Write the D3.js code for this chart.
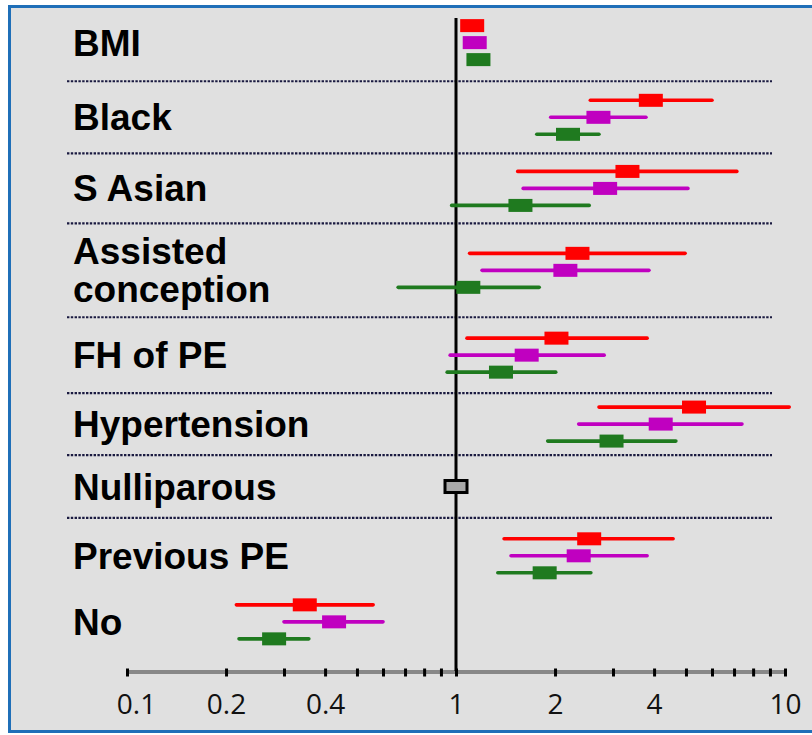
<!DOCTYPE html>
<html>
<head>
<meta charset="utf-8">
<script src="https://cdn.jsdelivr.net/npm/d3@7"></script>
<style>
  body { margin: 0; background: #fff; }
  .group-label { font-family: "Liberation Sans", Arial, sans-serif; font-weight: bold; font-size: 37px; fill: #000; }
  .axis text { font-family: "Open Sans", "Liberation Sans", sans-serif; font-size: 28px; fill: #111; }
</style>
</head>
<body>
<div id="chart"></div>
<script>
// risk factor groups, top to bottom
const groups = ["BMI", "Black", "S Asian", "Assisted conception", "FH of PE",
                "Hypertension", "Nulliparous", "Previous PE", "No"];

// odds ratios and 95% CI per model (null = reference category)
const redOR   = [1.12, 3.91, 3.32, 2.34, 2.02, 5.29, null, 2.54, 0.347];
const redLo   = [1.10, 2.56, 1.54, 1.10, 1.08, 2.72, null, 1.40, 0.215];
const redHi   = [1.14, 6.00, 7.14, 4.97, 3.81, 10.3, null, 4.57, 0.56];

const magOR   = [1.14, 2.71, 2.84, 2.15, 1.64, 4.19, null, 2.36, 0.426];
const magLo   = [1.12, 1.94, 1.60, 1.20, 0.96, 2.36, null, 1.47, 0.30];
const magHi   = [1.16, 3.78, 5.07, 3.86, 2.82, 7.40, null, 3.81, 0.60];

const greenOR = [1.17, 2.19, 1.57, 1.09, 1.37, 2.97, null, 1.86, 0.28];
const greenLo = [1.15, 1.76, 0.97, 0.667, 0.94, 1.90, null, 1.34, 0.219];
const greenHi = [1.19, 2.72, 2.54, 1.79, 2.01, 4.66, null, 2.57, 0.357];

const referenceGroup = "Nulliparous";
const referenceValue = 1;

const tickValues = [0.1, 0.2, 0.3, 0.4, 0.5, 0.6, 0.7, 0.8, 0.9,
                    1, 2, 3, 4, 5, 6, 7, 8, 9, 10];
const tickLabels = [0.1, 0.2, 0.4, 1, 2, 4, 10];

// LAYOUT
const W = 812, H = 735;
const rowSpan = [1.07, 1, 0.97, 1.3, 1.05, 0.86, 0.87, 1.05, 0.78];   // relative row heights
const series = [
    {key: "red",     color: "#ff0000", or: redOR,   lo: redLo,   hi: redHi},
    {key: "magenta", color: "#c000c0", or: magOR,   lo: magLo,   hi: magHi},
    {key: "green",   color: "#1f7a1f", or: greenOR, lo: greenLo, hi: greenHi}
];

const x = d3.scaleLog().domain([0.1, 10]).range([127, 785]);

const cum = [0];
rowSpan.forEach((s, i) => cum.push(cum[i] + s));
const yRow = d3.scaleLinear().domain([0, cum[cum.length - 1]]).range([4, 650]);
const rowTop = i => yRow(cum[i]);
const rowMid = i => yRow(cum[i] + rowSpan[i] / 2);
const ySeries = d3.scalePoint().domain(series.map(s => s.key)).range([-17, 17]);

const svg = d3.select("#chart").append("svg")
    .attr("width", W).attr("height", H);

// panel
svg.append("rect")
    .attr("x", 9.5).attr("y", 6.5)
    .attr("width", W + 10).attr("height", 725)
    .attr("fill", "#e0e0e0")
    .attr("stroke", "#1f6fb8")
    .attr("stroke-width", 3);

// dotted separators (none between Previous PE and No)
svg.append("g").selectAll("line")
    .data(d3.range(1, 8))
    .join("line")
    .attr("x1", 67).attr("x2", 772)
    .attr("y1", i => rowTop(i)).attr("y2", i => rowTop(i))
    .attr("stroke", "#1a1a40")
    .attr("stroke-width", 2.2)
    .attr("stroke-dasharray", "2.4 1.4");

// group labels
svg.append("g").selectAll("text")
    .data(groups)
    .join("text")
    .attr("class", "group-label")
    .attr("x", 73)
    .each(function (d, i) {
        let words = d === "Assisted conception" ? ["Assisted", "conception"] : [d];
        let t = d3.select(this);
        words.forEach((w, j) => {
            t.append("tspan")
                .attr("x", 73)
                .attr("y", rowMid(i) + 13 + (j - (words.length - 1) / 2) * 38)
                .text(w);
        });
    });

// axis
const axis = svg.append("g")
    .attr("class", "axis")
    .attr("transform", `translate(0, 671.5)`)
    .call(d3.axisBottom(x)
        .tickValues(tickValues)
        .tickSizeOuter(0)
        .tickFormat(d => tickLabels.includes(d) ? d3.format("")(d) : ""));

axis.select(".domain").attr("stroke", "#888").attr("stroke-width", 4);
axis.selectAll(".tick line")
    .attr("y1", -3).attr("y2", 5)
    .attr("stroke", "#000").attr("stroke-width", 3);
axis.selectAll(".tick text")
    .attr("y", 42).attr("dy", 0)
    .attr("dx", d => d === 0.1 ? 9 : 0);

// line of no effect
svg.append("line")
    .attr("x1", x(1)).attr("x2", x(1))
    .attr("y1", 18).attr("y2", 671)
    .attr("stroke", "#000").attr("stroke-width", 3);

// estimates
const rows = [];
series.forEach(s => {
    groups.forEach((g, i) => {
        if (s.or[i] == null) return;
        rows.push({key: s.key, color: s.color, group: i, or: s.or[i], lo: s.lo[i], hi: s.hi[i]});
    });
});

const marks = svg.append("g").selectAll("g")
    .data(rows)
    .join("g")
    .attr("transform", d => `translate(0, ${rowMid(d.group) + ySeries(d.key)})`);

marks.append("line")
    .attr("x1", d => x(d.lo)).attr("x2", d => x(d.hi))
    .attr("stroke", d => d.color)
    .attr("stroke-width", 3.6)
    .attr("stroke-linecap", "round");

marks.append("rect")
    .attr("x", d => x(d.or) - 12)
    .attr("y", -6.5)
    .attr("width", 24).attr("height", 13)
    .attr("fill", d => d.color);

// reference category marker
const ri = groups.indexOf(referenceGroup);
svg.append("rect")
    .attr("x", x(referenceValue) - 11)
    .attr("y", rowMid(ri) - 6)
    .attr("width", 22).attr("height", 12)
    .attr("fill", "#a8a8a8")
    .attr("stroke", "#000")
    .attr("stroke-width", 3);
</script>
</body>
</html>
